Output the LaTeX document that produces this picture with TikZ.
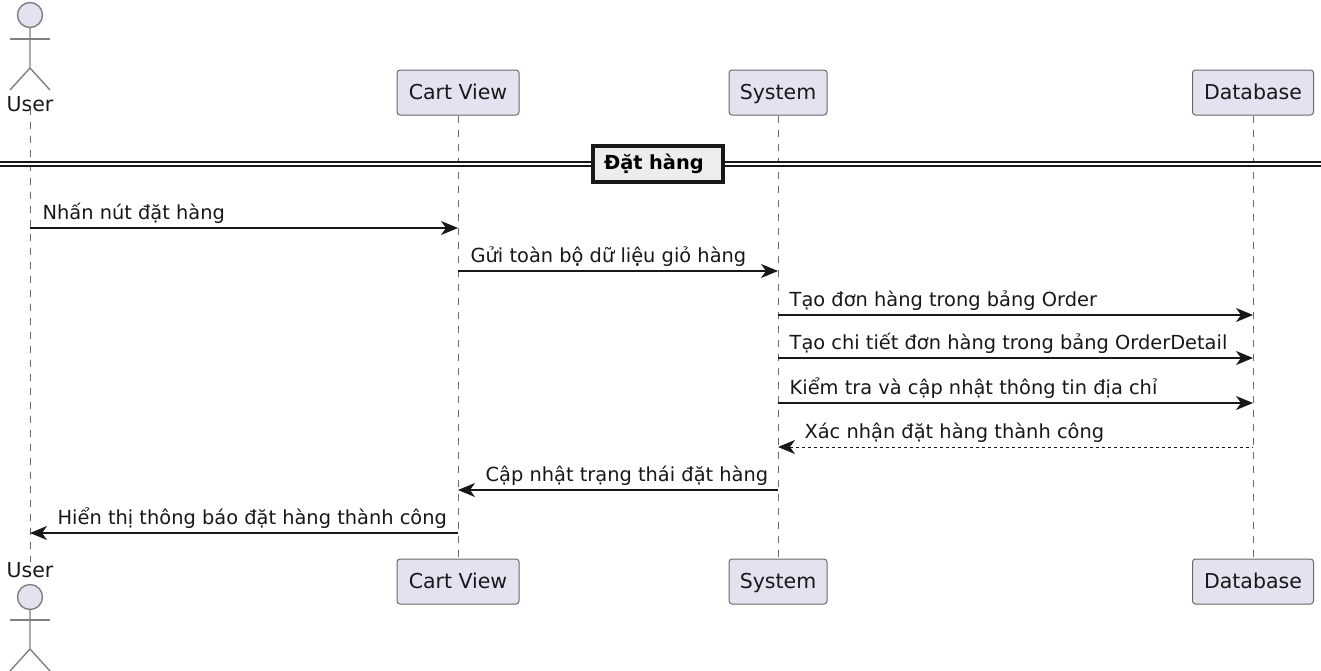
\documentclass[tikz,border=0pt]{standalone}
\usepackage{fontspec}
\setmainfont{DejaVu Sans}
\usetikzlibrary{arrows.meta}
\definecolor{partfill}{HTML}{E2E2F0}
\definecolor{partline}{HTML}{6A6A6A}
\definecolor{limbline}{HTML}{808080}
\definecolor{darkline}{HTML}{181818}
\tikzstyle{part} = [rectangle, draw=partline, fill=partfill, line width=1pt,
rounded corners=3pt, minimum height=45pt, text height=14pt, text depth=0pt,
font=\fontsize{20.5}{24}\selectfont, text=darkline]
\tikzstyle{head} = [circle, draw=limbline, fill=partfill, line width=1.4pt,
minimum size=25pt, inner sep=0pt]
\tikzstyle{actorname} = [inner sep=0pt, font=\fontsize{20.5}{24}\selectfont, text=darkline]
\tikzstyle{limb} = [draw=limbline, line width=1.4pt]
\tikzstyle{life} = [draw=partline, line width=0.9pt, dash pattern=on 7pt off 7pt]
\tikzstyle{line} = [draw=darkline, line width=1.3pt,
-{Stealth[length=17pt, width=14pt, inset=5pt]}]
\tikzstyle{lineback} = [draw=darkline, line width=1.3pt,
{Stealth[length=17pt, width=14pt, inset=5pt]}-]
\tikzstyle{replyback} = [lineback, line width=1pt, dash pattern=on 3pt off 3pt]
\tikzstyle{msg} = [pos=0, anchor=base west, inner sep=0pt, yshift=9pt,
font=\fontsize{19.4}{23}\selectfont, text=darkline]
\tikzstyle{divider} = [rectangle, draw=darkline, fill=black!7, line width=3.2pt,
minimum width=130pt, minimum height=36pt, inner sep=0pt,
font=\bfseries\fontsize{19.4}{23}\selectfont]
\tikzstyle{rule} = [draw=darkline, double=white, double distance=1.8pt, line width=1.7pt]

\begin{document}
\begin{tikzpicture}[x=1pt, y=-1pt, node distance=428pt]
    \useasboundingbox (0,0) rectangle (1321,670);
    % Place nodes
    \node [head] (userhead) at (30,15) {};
    \node [actorname, below of=userhead, node distance=89pt] (user) {User};
    \node [part, minimum width=122pt] (cart) at (458,92.5) {Cart View};
    \node [part, minimum width=98pt, right of=cart, node distance=320pt] (system) {System};
    \node [part, minimum width=121pt, right of=system, node distance=475pt] (database) {Database};
    \node [part, minimum width=122pt, below of=cart, node distance=489pt] (cartend) {Cart View};
    \node [part, minimum width=98pt, below of=system, node distance=489pt] (systemend) {System};
    \node [part, minimum width=121pt, below of=database, node distance=489pt] (databaseend) {Database};
    \node [actorname] (userend) at (30,570) {User};
    \node [head, below of=userend, node distance=27pt] (userendhead) {};

    \coordinate (ruleleft) at (0,164);
    \coordinate (ruleright) at (1321,164);
    \coordinate (hip) at (30,68);
    \coordinate (lefthand) at (10,39);
    \coordinate (righthand) at (50,39);
    \coordinate (leftfoot) at (10,90);
    \coordinate (rightfoot) at (50,90);
    \coordinate (endlefthand) at (10,620);
    \coordinate (endrighthand) at (50,620);
    \coordinate (endhip) at (30,649);
    \coordinate (endleftfoot) at (10,671);
    \coordinate (endrightfoot) at (50,671);
    \coordinate (msga) at (0,228);
    \coordinate (msgb) at (0,271);
    \coordinate (msgc) at (0,315);
    \coordinate (msgd) at (0,358);
    \coordinate (msge) at (0,403);
    \coordinate (msgf) at (0,447);
    \coordinate (msgg) at (0,490);
    \coordinate (msgh) at (0,533);

    % Draw edges
    \path [life] (user.south) ++(0,4pt) -- (userend.north);
    \path [life] (cart) -- (cartend);
    \path [life] (system) -- (systemend);
    \path [life] (database) -- (databaseend);

    \path [limb] (userhead) -- (hip) -- (leftfoot);
    \path [limb] (hip) -- (rightfoot);
    \path [limb] (lefthand) -- (righthand);
    \path [limb] (userendhead) -- (endhip) -- (endleftfoot);
    \path [limb] (endhip) -- (endrightfoot);
    \path [limb] (endlefthand) -- (endrighthand);

    \path [rule] (ruleleft) -- (ruleright);
    \node [divider, text width=108pt, align=left] (phase) at (658,164) {Đặt hàng};

    \path [line] (user |- msga) -- node [msg, xshift=12pt] (labela) {Nhấn nút đặt hàng} (cart |- msga);
    \path [line] (cart |- msgb) -- node [msg, xshift=12pt] (labelb) {Gửi toàn bộ dữ liệu giỏ hàng} (system |- msgb);
    \path [line] (system |- msgc) -- node [msg, xshift=11pt] (labelc) {Tạo đơn hàng trong bảng Order} (database |- msgc);
    \path [line] (system |- msgd) -- node [msg, xshift=11pt] (labeld) {Tạo chi tiết đơn hàng trong bảng OrderDetail} (database |- msgd);
    \path [line] (system |- msge) -- node [msg, xshift=11pt] (labele) {Kiểm tra và cập nhật thông tin địa chỉ} (database |- msge);
    \path [replyback] (system |- msgf) -- node [msg, xshift=26pt] (labelf) {Xác nhận đặt hàng thành công} (database |- msgf);
    \path [lineback] (cart |- msgg) -- node [msg, xshift=27pt] (labelg) {Cập nhật trạng thái đặt hàng} (system |- msgg);
    \path [lineback] (user |- msgh) -- node [msg, xshift=27pt] (labelh) {Hiển thị thông báo đặt hàng thành công} (cart |- msgh);
\end{tikzpicture}
\end{document}
